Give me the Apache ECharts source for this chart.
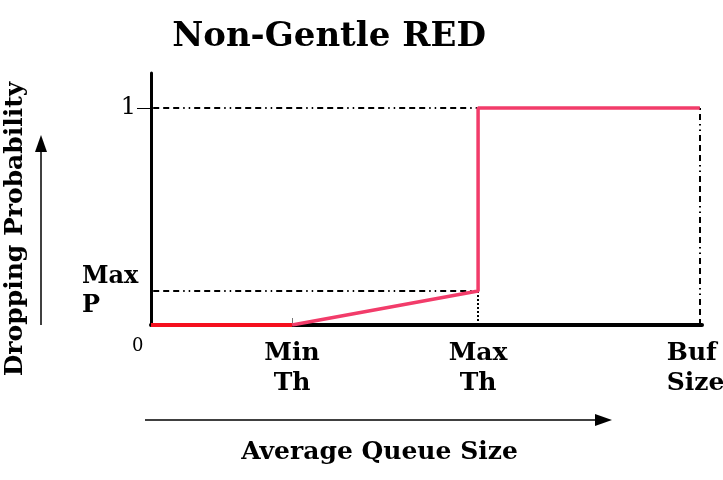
<!DOCTYPE html>
<html>
<head>
<meta charset="utf-8">
<script src="https://cdn.jsdelivr.net/npm/echarts@6/dist/echarts.min.js"></script>
<style>
  html, body { margin: 0; padding: 0; background: #fff; }
  #main { width: 723px; height: 480px; }
</style>
</head>
<body>
<div id="main"></div>
<script>
// thresholds on the queue axis (0..100 = empty..buffer full)
const minTh = 25.7
const maxTh = 59.6
const bufSize = 100
const maxP = 0.157

const xLabels = {}
xLabels[minTh] = 'Min\nTh'
xLabels[maxTh] = 'Max\nTh'
xLabels[bufSize] = '{b|Buf\nSize}'

const redPart = [[0, 0], [minTh, 0]]
const pinkPart = [[minTh, 0], [maxTh, maxP], [maxTh, 1], [bufSize, 1]]

const serifB = 'DejaVu Serif'
const dashDot = [6, 4, 6, 4, 6, 4, 1.5, 4, 1.5, 4]

const chart = echarts.init(document.getElementById('main'))

let option = {
  animation: false,
  title: {
    text: 'Non-Gentle RED',
    left: 324,
    textAlign: 'center',
    top: 15,
    textStyle: { fontFamily: serifB, fontWeight: 'bold', fontSize: 34, color: '#000' }
  },
  grid: { left: 151, right: 21, top: 73, bottom: 155, outerBoundsMode: 'none' },
  xAxis: {
    type: 'value',
    min: 0,
    max: 100.4,
    name: 'Average Queue Size',
    nameLocation: 'middle',
    nameGap: 115,
    nameTextStyle: { fontFamily: serifB, fontWeight: 'bold', fontSize: 25, color: '#000', padding: [0, 94, 0, 0] },
    splitLine: { show: false },
    axisLine: { lineStyle: { color: '#000', width: 4 } },
    axisTick: { show: true, inside: true, length: 7, customValues: [minTh], lineStyle: { color: '#777', width: 1 } },
    axisLabel: {
      customValues: [minTh, maxTh, bufSize],
      formatter: function (v) { return xLabels[v] || '' },
      margin: 13,
      lineHeight: 30,
      hideOverlap: false,
      fontFamily: serifB, fontWeight: 'bold', fontSize: 25, color: '#000',
      rich: {
        b: { fontFamily: serifB, fontWeight: 'bold', fontSize: 25, lineHeight: 30, width: 66, align: 'left', color: '#000' }
      }
    }
  },
  yAxis: {
    type: 'value',
    min: 0,
    max: 1.161,
    name: 'Dropping Probability',
    nameLocation: 'middle',
    nameRotate: 90,
    nameGap: 123,
    nameTextStyle: { fontFamily: serifB, fontWeight: 'bold', fontSize: 25, color: '#000', padding: [0, 60, 0, 0] },
    splitLine: { show: false },
    axisLine: { show: true, lineStyle: { color: '#000', width: 3 } },
    axisTick: { show: true, length: 14, customValues: [1], lineStyle: { color: '#000', width: 1 } },
    axisLabel: {
      customValues: [maxP, 1],
      margin: 9,
      formatter: function (v) {
        if (v === 1) return '{one|1}'
        return '{p|Max\nP}'
      },
      rich: {
        one: { fontFamily: serifB, fontSize: 24, color: '#000', padding: [0, 6, 0, 0] },
        p: { fontFamily: serifB, fontWeight: 'bold', fontSize: 24, lineHeight: 29, width: 60, align: 'left', color: '#000' }
      }
    }
  },
  graphic: [
    { type: 'text', left: 132, top: 337, style: { text: '0', fontFamily: serifB, fontSize: 18, fill: '#000' } },
    { type: 'line', shape: { x1: 41, y1: 325, x2: 41, y2: 150 }, style: { stroke: '#000', lineWidth: 1.5 } },
    { type: 'polygon', shape: { points: [[41, 135], [35, 152], [47, 152]] }, style: { fill: '#000' } },
    { type: 'line', shape: { x1: 145, y1: 420, x2: 596, y2: 420 }, style: { stroke: '#000', lineWidth: 1.5 } },
    { type: 'polygon', shape: { points: [[612, 420], [595, 414], [595, 426]] }, style: { fill: '#000' } }
  ],
  series: [
    {
      type: 'line',
      data: redPart,
      symbol: 'none',
      lineStyle: { color: '#f5101e', width: 4 },
      z: 4
    },
    {
      type: 'line',
      data: pinkPart,
      symbol: 'none',
      lineStyle: { color: '#f23c6a', width: 3.5 },
      z: 5,
      markLine: {
        silent: true,
        symbol: 'none',
        label: { show: false },
        lineStyle: { color: '#000', width: 2, type: dashDot },
        data: [
          [{ coord: [0.4, 1] }, { coord: [bufSize, 1] }],
          [{ coord: [0.4, maxP] }, { coord: [maxTh, maxP] }],
          [{ coord: [bufSize, 0] }, { coord: [bufSize, 1] }],
          [{ coord: [maxTh, 0], lineStyle: { type: [2, 2] } }, { coord: [maxTh, maxP] }]
        ]
      }
    }
  ]
}

chart.setOption(option)
</script>
</body>
</html>
